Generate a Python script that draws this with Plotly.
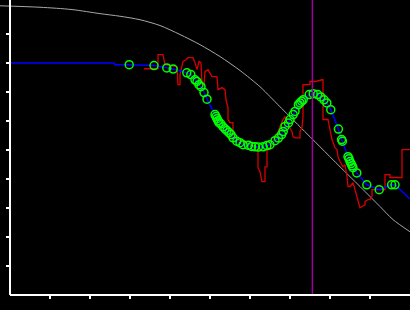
import plotly.graph_objects as go

# Gray reference curve
ref_x = [-0.25, 0.75, 1.55, 2.25, 2.75, 3.25, 3.75, 4.25, 4.75, 5.25, 5.75, 6.25,
         6.5, 6.75, 7.25, 7.75, 8.25, 8.75, 9.25, 9.575, 10.0]
ref_y = [9.97, 9.92, 9.84, 9.70, 9.61, 9.49, 9.29, 8.98, 8.63, 8.22, 7.74, 7.18,
         6.84, 6.49, 5.80, 5.11, 4.42, 3.74, 3.05, 2.60, 2.18]

# Red raw series
raw_x = [3.35, 3.70, 3.70, 3.825, 3.875, 4.05, 4.175, 4.20, 4.25, 4.25, 4.325, 4.40,
         4.45, 4.575, 4.625, 4.675, 4.725, 4.775, 4.80, 4.85, 4.875, 4.95, 5.05, 5.175,
         5.20, 5.30, 5.375, 5.40, 5.45, 5.45, 5.50, 5.575, 5.575, 5.625, 5.675, 5.875,
         6.0, 6.125, 6.20, 6.20, 6.25, 6.30, 6.375, 6.375, 6.425, 6.425, 6.50, 6.575,
         6.70, 6.80, 6.875, 6.925, 7.0, 7.05, 7.075, 7.125, 7.25, 7.25, 7.30, 7.325,
         7.325, 7.50, 7.50, 7.625, 7.80, 7.825, 7.825, 7.95, 8.0, 8.05, 8.125, 8.175,
         8.20, 8.25, 8.325, 8.375, 8.425, 8.45, 8.50, 8.575, 8.625, 8.675, 8.70, 8.75,
         8.80, 8.875, 8.875, 8.95, 9.0, 9.05, 9.05, 9.375, 9.375, 9.50, 9.50, 9.80,
         9.80, 10.0]
raw_y = [7.80, 7.80, 8.29, 8.29, 7.94, 7.91, 7.87, 7.25, 7.25, 7.60, 8.05, 8.11,
         8.18, 8.18, 8.01, 7.77, 8.05, 8.01, 7.25, 7.25, 7.70, 7.77, 7.53, 7.53,
         7.08, 7.15, 7.08, 6.73, 6.46, 6.05, 5.94, 5.94, 5.63, 5.42, 5.36, 5.25,
         5.18, 5.11, 5.08, 4.39, 4.25, 3.91, 3.91, 4.42, 4.42, 5.01, 5.01, 5.29,
         5.63, 5.98, 6.15, 5.94, 5.77, 5.63, 5.46, 5.42, 5.42, 5.63, 5.77, 6.15,
         7.25, 7.25, 7.36, 7.36, 7.42, 7.42, 6.05, 6.05, 5.70, 5.36, 5.08, 5.01,
         4.77, 4.60, 4.42, 4.49, 4.08, 3.74, 3.74, 3.87, 3.63, 3.39, 3.29, 3.01,
         3.05, 3.11, 3.22, 3.29, 3.29, 3.39, 3.63, 3.63, 4.15, 4.15, 4.05, 4.05,
         5.01, 5.01]

# Green sample points (on the blue smooth line)
pts_x = [2.98, 3.60, 3.92, 4.08, 4.42, 4.52, 4.625, 4.675, 4.725, 4.775, 4.85, 4.925,
         5.125, 5.15, 5.175, 5.20, 5.225, 5.27, 5.325, 5.375, 5.425, 5.475, 5.525, 5.575,
         5.67, 5.75, 5.825, 5.96, 6.04, 6.125, 6.21, 6.33, 6.42, 6.50, 6.625, 6.71,
         6.79, 6.83, 6.875, 6.96, 7.0, 7.08, 7.125, 7.21, 7.25, 7.29, 7.33, 7.48,
         7.58, 7.69, 7.77, 7.85, 7.92, 8.02, 8.21, 8.29, 8.31, 8.45, 8.475, 8.50,
         8.525, 8.55, 8.575, 8.67, 8.92, 9.23, 9.54, 9.625]
pts_y = [7.94, 7.91, 7.83, 7.79, 7.66, 7.60, 7.42, 7.36, 7.25, 7.18, 6.98, 6.75,
         6.22, 6.15, 6.08, 6.01, 5.94, 5.90, 5.80, 5.73, 5.67, 5.60, 5.53, 5.42,
         5.30, 5.25, 5.18, 5.16, 5.12, 5.11, 5.10, 5.11, 5.15, 5.18, 5.32, 5.41,
         5.53, 5.64, 5.81, 5.93, 6.05, 6.22, 6.33, 6.56, 6.62, 6.68, 6.73, 6.91,
         6.94, 6.91, 6.83, 6.73, 6.62, 6.39, 5.72, 5.36, 5.30, 4.77, 4.70, 4.60,
         4.53, 4.46, 4.39, 4.21, 3.80, 3.63, 3.80, 3.80]

# Blue line: lead-in, sample points, tail
lead_x = [0.0, 2.60, 2.62]
lead_y = [8.0, 8.0, 7.94]
tail_x = [10.0]
tail_y = [3.31]

marker_x = 7.56

x_ticks = [1, 2, 3, 4, 5, 6, 7, 8, 9]
y_ticks = [1, 2, 3, 4, 5, 6, 7, 8, 9]

fig = go.Figure()
fig.add_trace(go.Scatter(x=ref_x, y=ref_y, mode="lines",
                         line=dict(color="#a8a8a8", width=1, shape="spline",
                                   smoothing=0.8),
                         hoverinfo="skip"))
fig.add_trace(go.Scatter(x=raw_x, y=raw_y, mode="lines",
                         line=dict(color="#d80000", width=1.3), hoverinfo="skip"))
fig.add_trace(go.Scatter(x=lead_x + pts_x + tail_x, y=lead_y + pts_y + tail_y,
                         mode="lines", line=dict(color="#0000ff", width=1.5),
                         hoverinfo="skip"))
fig.add_trace(go.Scatter(x=pts_x, y=pts_y, mode="markers",
                         marker=dict(symbol="circle-open", size=8, color="#00ff00",
                                     line=dict(width=1.5, color="#00ff00")),
                         hoverinfo="skip"))
fig.add_trace(go.Scatter(x=[marker_x, marker_x], y=[0, 10.2], mode="lines",
                         line=dict(color="#a000a0", width=1.5), hoverinfo="skip"))

fig.add_shape(type="line", xref="x", yref="paper", x0=0, x1=10, y0=0, y1=0,
              line=dict(color="white", width=2), layer="above")

fig.update_layout(
    width=410, height=310,
    margin=dict(l=0, r=0, t=0, b=15),
    paper_bgcolor="black", plot_bgcolor="black",
    showlegend=False,
    xaxis=dict(range=[-0.25, 10], domain=[0, 1], showgrid=False, zeroline=False,
               showline=False, ticks="outside", ticklen=3, tickwidth=1.5,
               tickcolor="white", tickvals=x_ticks, showticklabels=False),
    yaxis=dict(range=[0, 10.17], anchor="free", position=0.25 / 10.25,
               showgrid=False, zeroline=False, showline=True, linecolor="white",
               linewidth=2, ticks="outside", ticklen=3, tickwidth=1.5,
               tickcolor="white", tickvals=y_ticks, showticklabels=False),
)

fig.write_html("out.html")
